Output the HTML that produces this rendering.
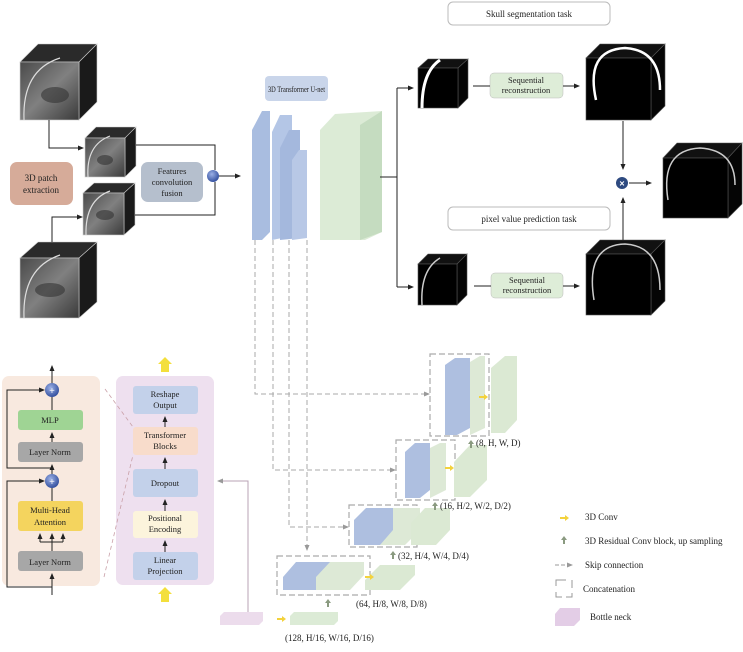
<!DOCTYPE html>
<html><head><meta charset="utf-8"><style>
html,body{margin:0;padding:0;background:#fff;width:743px;height:652px;overflow:hidden}
svg text{font-family:"Liberation Serif",serif;fill:#222}
</style></head><body>
<svg width="743" height="652" viewBox="0 0 743 652" xmlns="http://www.w3.org/2000/svg">
<defs>
<marker id="a" markerWidth="6" markerHeight="6" refX="5" refY="3" orient="auto"><path d="M0,0.5 L6,3 L0,5.5z" fill="#222"/></marker>
<marker id="ag" markerWidth="6" markerHeight="6" refX="5" refY="3" orient="auto"><path d="M0,0.5 L6,3 L0,5.5z" fill="#999"/></marker>
<linearGradient id="mri" x1="0" y1="0" x2="1" y2="1"><stop offset="0" stop-color="#4a4a4a"/><stop offset="0.5" stop-color="#808080"/><stop offset="1" stop-color="#3a3a3a"/></linearGradient>
<radialGradient id="bc" cx="0.4" cy="0.35" r="0.7"><stop offset="0" stop-color="#9bb0e6"/><stop offset="1" stop-color="#2d4a9a"/></radialGradient>
</defs>

<g stroke="#ccc" stroke-width="0.6">
<path d="M20,62 L38,44 L97,44 L79,62z" fill="#2a2a2a"/><path d="M79,62 L97,44 L97,102 L79,120z" fill="#1a1a1a"/><rect x="20" y="62" width="59" height="58" fill="url(#mri)"/>
<path d="M85,138 L96,127 L136,127 L125,138z" fill="#2a2a2a"/><path d="M125,138 L136,127 L136,166 L125,177z" fill="#1a1a1a"/><rect x="85" y="138" width="40" height="39" fill="url(#mri)"/>
<path d="M83,193 L94,183 L135,183 L124,193z" fill="#2a2a2a"/><path d="M124,193 L135,183 L135,225 L124,235z" fill="#1a1a1a"/><rect x="83" y="193" width="41" height="42" fill="url(#mri)"/>
<path d="M20,258 L38,242 L97,242 L79,258z" fill="#2a2a2a"/><path d="M79,258 L97,242 L97,302 L79,318z" fill="#1a1a1a"/><rect x="20" y="258" width="59" height="60" fill="url(#mri)"/>
</g>
<g fill="none" stroke="#ddd" stroke-width="1.2"><path d="M24,120 Q22,70 60,58"/><path d="M88,177 Q86,145 110,136"/><path d="M86,235 Q85,200 110,191"/><path d="M24,318 Q22,268 60,255"/></g>
<g fill="#333" opacity="0.6"><ellipse cx="55" cy="95" rx="14" ry="8"/><ellipse cx="50" cy="290" rx="15" ry="7"/><ellipse cx="105" cy="160" rx="8" ry="5"/><ellipse cx="105" cy="215" rx="9" ry="5"/></g>

<rect x="10" y="162" width="63" height="43" rx="7" fill="#d6ab99"/>
<text x="41" y="181" font-size="9" text-anchor="middle">3D patch</text><text x="41" y="193" font-size="9" text-anchor="middle">extraction</text>
<rect x="141" y="162" width="62" height="40" rx="7" fill="#b5bfcd"/>
<text x="172" y="174" font-size="8.5" text-anchor="middle">Features</text><text x="172" y="185" font-size="8.5" text-anchor="middle">convolution</text><text x="172" y="196" font-size="8.5" text-anchor="middle">fusion</text>
<g stroke="#222" stroke-width="1" fill="none">
<path d="M49,120 V148 H83" marker-end="url(#a)"/>
<path d="M52,242 V217 H82" marker-end="url(#a)"/>
<path d="M136,145 H215 V170"/><path d="M135,215 H215 V182"/>
<path d="M219,176 H240" marker-end="url(#a)"/>
</g>
<circle cx="213" cy="176" r="6" fill="url(#bc)"/>

<rect x="265" y="76" width="63" height="25" rx="4" fill="#c9d5ea"/>
<text x="268" y="92" font-size="8" textLength="57" lengthAdjust="spacingAndGlyphs">3D Transformer U-net</text>
<path d="M252,130 L262,111 L270,111 L270,232 L262,240 L252,240z" fill="#a9bde0"/>
<path d="M272,132 L280,115 L292,115 L292,236 L272,240z" fill="#b4c6e6"/>
<path d="M280,148 L289,130 L300,130 L300,238 L280,240z" fill="#a4b8dd"/>
<path d="M292,160 L299,150 L307,150 L307,238 L292,240z" fill="#b8c8e6"/>
<path d="M320,130 L335,114 L382,111 L382,232 L365,240 L320,240z" fill="#dcebd6"/>
<path d="M360,125 L382,111 L382,232 L360,240z" fill="#c5dcc0"/>
<g stroke="#222" stroke-width="1" fill="none">
<path d="M380,177 H397"/><path d="M397,88 V287"/>
<path d="M397,88 H413" marker-end="url(#a)"/><path d="M397,287 H413" marker-end="url(#a)"/>
</g>

<rect x="448" y="2" width="162" height="23" rx="5" fill="#fff" stroke="#bbb"/>
<text x="529" y="17" font-size="9" text-anchor="middle">Skull segmentation task</text>
<rect x="448" y="207" width="162" height="23" rx="5" fill="#fff" stroke="#bbb"/>
<text x="529" y="222" font-size="9" text-anchor="middle">pixel value prediction task</text>
<g stroke="#555" stroke-width="0.6">
<path d="M418,68 L428,59 L468,59 L458,68z" fill="#111"/><path d="M458,68 L468,59 L468,98 L458,108z" fill="#050505"/><rect x="418" y="68" width="40" height="40" fill="#000"/>
<path d="M586,58 L600,44 L665,44 L651,58z" fill="#111"/><path d="M651,58 L665,44 L665,106 L651,120z" fill="#050505"/><rect x="586" y="58" width="65" height="62" fill="#000"/>
<path d="M663,158 L677,143 L742,143 L728,158z" fill="#111"/><path d="M728,158 L742,143 L742,204 L728,218z" fill="#050505"/><rect x="663" y="158" width="65" height="60" fill="#000"/>
<path d="M418,264 L428,254 L467,254 L457,264z" fill="#111"/><path d="M457,264 L467,254 L467,295 L457,305z" fill="#050505"/><rect x="418" y="264" width="39" height="41" fill="#000"/>
<path d="M586,254 L600,240 L665,240 L651,254z" fill="#111"/><path d="M651,254 L665,240 L665,301 L651,315z" fill="#050505"/><rect x="586" y="254" width="65" height="61" fill="#000"/>
</g>
<g fill="none" stroke="#fff">
<path d="M422,108 Q422,72 440,60" stroke-width="3"/>
<path d="M596,100 Q585,50 625,48 Q660,50 660,90" stroke-width="2.5"/>
<path d="M668,200 Q660,150 700,148 Q735,150 735,185" stroke-width="1.5" stroke="#ccc"/>
<path d="M422,305 Q420,270 440,258" stroke-width="1.5" stroke="#ccc"/>
<path d="M594,300 Q585,245 625,244 Q660,246 660,290" stroke-width="1.5" stroke="#ccc"/>
</g>
<rect x="490" y="73" width="73" height="25" rx="4" fill="#deedd8" stroke="#bbb" stroke-width="0.5"/>
<text x="526" y="83" font-size="8.5" text-anchor="middle">Sequential</text><text x="526" y="93" font-size="8.5" text-anchor="middle">reconstruction</text>
<rect x="491" y="273" width="72" height="25" rx="4" fill="#deedd8" stroke="#bbb" stroke-width="0.5"/>
<text x="527" y="283" font-size="8.5" text-anchor="middle">Sequential</text><text x="527" y="293" font-size="8.5" text-anchor="middle">reconstruction</text>
<g stroke="#222" stroke-width="1" fill="none">
<path d="M473,86 H490"/><path d="M563,86 H579" marker-end="url(#a)"/>
<path d="M474,286 H491"/><path d="M563,286 H579" marker-end="url(#a)"/>
<path d="M623,121 V169" marker-end="url(#a)"/><path d="M623,240 V198" marker-end="url(#a)"/>
<path d="M629,183 H651" marker-end="url(#a)"/>
</g>
<circle cx="622" cy="183" r="6" fill="#2e4a80"/>
<text x="622" y="186.5" font-size="9" text-anchor="middle" style="fill:#fff;font-family:'Liberation Sans',sans-serif;font-weight:bold">×</text>

<rect x="2" y="376" width="98" height="210" rx="7" fill="#f8e9df"/>
<rect x="116" y="376" width="98" height="209" rx="7" fill="#eee0ef"/>
<rect x="18" y="410" width="65" height="20" rx="3" fill="#9fd494"/><text x="50" y="423" font-size="8.5" text-anchor="middle">MLP</text>
<rect x="18" y="442" width="65" height="20" rx="3" fill="#a7a7a7"/><text x="50" y="455" font-size="8.5" text-anchor="middle">Layer Norm</text>
<rect x="18" y="501" width="65" height="30" rx="3" fill="#f4d45e"/><text x="50" y="513" font-size="8.5" text-anchor="middle">Multi-Head</text><text x="50" y="525" font-size="8.5" text-anchor="middle">Attention</text>
<rect x="18" y="551" width="65" height="20" rx="3" fill="#a7a7a7"/><text x="50" y="565" font-size="8.5" text-anchor="middle">Layer Norm</text>
<g stroke="#222" stroke-width="1" fill="none">
<path d="M52,384 V366" marker-end="url(#a)"/>
<path d="M52,410 V397"/><path d="M52,442 V433" marker-end="url(#a)"/>
<path d="M52,501 V488"/><path d="M52,474 V465" marker-end="url(#a)"/>
<path d="M52,468 H7 V390 H44" marker-end="url(#a)"/>
<path d="M52,587 H7 V481 H44" marker-end="url(#a)"/>
<path d="M52,595 V574" marker-end="url(#a)"/>
<path d="M52,551 V534" marker-end="url(#a)"/><path d="M40,542 H63"/><path d="M40,542 V534" marker-end="url(#a)"/><path d="M63,542 V534" marker-end="url(#a)"/>
</g>
<circle cx="52" cy="390" r="7" fill="url(#bc)"/><text x="52" y="394" font-size="10" text-anchor="middle" style="fill:#fff;font-weight:bold">+</text>
<circle cx="52" cy="481" r="7" fill="url(#bc)"/><text x="52" y="485" font-size="10" text-anchor="middle" style="fill:#fff;font-weight:bold">+</text>

<rect x="133" y="386" width="65" height="28" rx="3" fill="#c3d1ea"/><text x="165" y="397" font-size="8.5" text-anchor="middle">Reshape</text><text x="165" y="408" font-size="8.5" text-anchor="middle">Output</text>
<rect x="133" y="427" width="65" height="28" rx="3" fill="#f8dccb"/><text x="165" y="438" font-size="8.5" text-anchor="middle">Transformer</text><text x="165" y="449" font-size="8.5" text-anchor="middle">Blocks</text>
<rect x="133" y="469" width="65" height="28" rx="3" fill="#c3d1ea"/><text x="165" y="486" font-size="8.5" text-anchor="middle">Dropout</text>
<rect x="133" y="511" width="65" height="27" rx="3" fill="#fcf4dc"/><text x="165" y="521" font-size="8.5" text-anchor="middle">Positional</text><text x="165" y="532" font-size="8.5" text-anchor="middle">Encoding</text>
<rect x="133" y="552" width="65" height="28" rx="3" fill="#c3d1ea"/><text x="165" y="563" font-size="8.5" text-anchor="middle">Linear</text><text x="165" y="574" font-size="8.5" text-anchor="middle">Projection</text>
<g stroke="#222" stroke-width="1" fill="none">
<path d="M165,552 V541" marker-end="url(#a)"/><path d="M165,511 V500" marker-end="url(#a)"/><path d="M165,469 V458" marker-end="url(#a)"/><path d="M165,427 V417" marker-end="url(#a)"/>
</g>
<path d="M161,372 V364 H158 L165,357 L172,364 H169 V372z" fill="#f3df3c"/>
<path d="M161,602 V594 H158 L165,587 L172,594 H169 V602z" fill="#f3df3c"/>
<g stroke="#c9a0a8" stroke-width="0.8" stroke-dasharray="4,3" fill="none"><path d="M105,389 L133,427"/><path d="M104,577 L133,455"/></g>
<path d="M248,612 V481 H218" stroke="#b9a3b5" fill="none" marker-end="url(#ag)"/>

<g stroke="#aaa" stroke-width="1" stroke-dasharray="5,3" fill="none">
<path d="M255,240 V394 H429" marker-end="url(#ag)"/>
<path d="M273,240 V470 H395" marker-end="url(#ag)"/>
<path d="M289,240 V527 H348" marker-end="url(#ag)"/>
<path d="M307,240 V550" marker-end="url(#ag)"/>
</g>
<g stroke="#aaa" stroke-width="1.2" stroke-dasharray="6,3" fill="none">
<rect x="430" y="354" width="59" height="82"/>
<rect x="396" y="440" width="59" height="60"/>
<rect x="349" y="505" width="68" height="42"/>
<rect x="277" y="556" width="93" height="39"/>
</g>
<path d="M470,362 L480,356 L485,356 L485,428 L470,435z" fill="#dde9d6"/>
<path d="M445,365 L455,358 L470,358 L470,428 L457,435 L445,435z" fill="#aebfe0"/>
<path d="M491,368 L505,356 L517,356 L517,420 L505,433 L491,433z" fill="#dbe9d3"/>
<path d="M430,448 L440,443 L446,443 L446,490 L430,498z" fill="#dde9d6"/>
<path d="M405,452 L415,443 L430,443 L430,490 L420,498 L405,498z" fill="#aebfe0"/>
<path d="M454,462 L470,445 L487,445 L487,480 L470,497 L454,497z" fill="#dbe9d3"/>
<path d="M378,520 L390,508 L420,508 L420,530 L405,545 L378,545z" fill="#dde9d6"/>
<path d="M354,520 L366,508 L393,508 L393,530 L380,545 L354,545z" fill="#aebfe0"/>
<path d="M411,523 L425,508 L450,508 L450,530 L436,545 L411,545z" fill="#dbe9d3"/>
<path d="M283,577 L296,562 L330,562 L330,575 L317,590 L283,590z" fill="#aebfe0"/>
<path d="M316,577 L330,562 L364,562 L364,575 L350,590 L316,590z" fill="#dde9d6"/>
<path d="M365,580 L380,565 L415,565 L415,575 L400,590 L365,590z" fill="#dbe9d3"/>
<path d="M220,616 L224,612 L263,612 L263,621 L259,625 L220,625z" fill="#ecdcec"/>
<path d="M290,616 L294,612 L338,612 L338,621 L334,625 L290,625z" fill="#dcebd6"/>
<g fill="#f3d23c">
<path d="M479,396 h5 v-2 l4,3 l-4,3 v-2 h-5z"/><path d="M445,467 h5 v-2 l4,3 l-4,3 v-2 h-5z"/>
<path d="M365,576 h5 v-2 l4,3 l-4,3 v-2 h-5z"/><path d="M277,618 h5 v-2 l4,3 l-4,3 v-2 h-5z"/>
<path d="M560,517 h5 v-2 l4,3 l-4,3 v-2 h-5z"/>
</g>
<g fill="#8a9a80">
<path d="M470,448 v-4 h-2 l3,-4 l3,4 h-2 v4z"/><path d="M434,510 v-4 h-2 l3,-4 l3,4 h-2 v4z"/>
<path d="M392,559 v-4 h-2 l3,-4 l3,4 h-2 v4z"/><path d="M327,607 v-4 h-2 l3,-4 l3,4 h-2 v4z"/>
<path d="M563,544 v-4 h-2 l3,-4 l3,4 h-2 v4z"/>
</g>
<text x="476" y="446" font-size="9">(8, H, W, D)</text>
<text x="440" y="509" font-size="9">(16, H/2, W/2, D/2)</text>
<text x="398" y="559" font-size="9">(32, H/4, W/4, D/4)</text>
<text x="356" y="607" font-size="9">(64, H/8, W/8, D/8)</text>
<text x="285" y="641" font-size="9">(128, H/16, W/16, D/16)</text>

<text x="585" y="520" font-size="9">3D Conv</text>
<text x="585" y="544" font-size="9">3D Residual Conv block, up sampling</text>
<path d="M555,565 H572" stroke="#999" stroke-dasharray="4,2" fill="none" marker-end="url(#ag)"/>
<text x="585" y="568" font-size="9">Skip connection</text>
<g stroke="#999" fill="none" stroke-width="1"><path d="M556,586 V580 H566"/><path d="M572,580 V588"/><path d="M556,592 V597 H562"/><path d="M566,597 H572 V593"/></g>
<text x="583" y="592" font-size="9">Concatenation</text>
<path d="M555,614 L560,608 L580,608 L580,620 L574,626 L555,626z" fill="#e3cde6"/>
<text x="590" y="620" font-size="9">Bottle neck</text>
</svg>
</body></html>
